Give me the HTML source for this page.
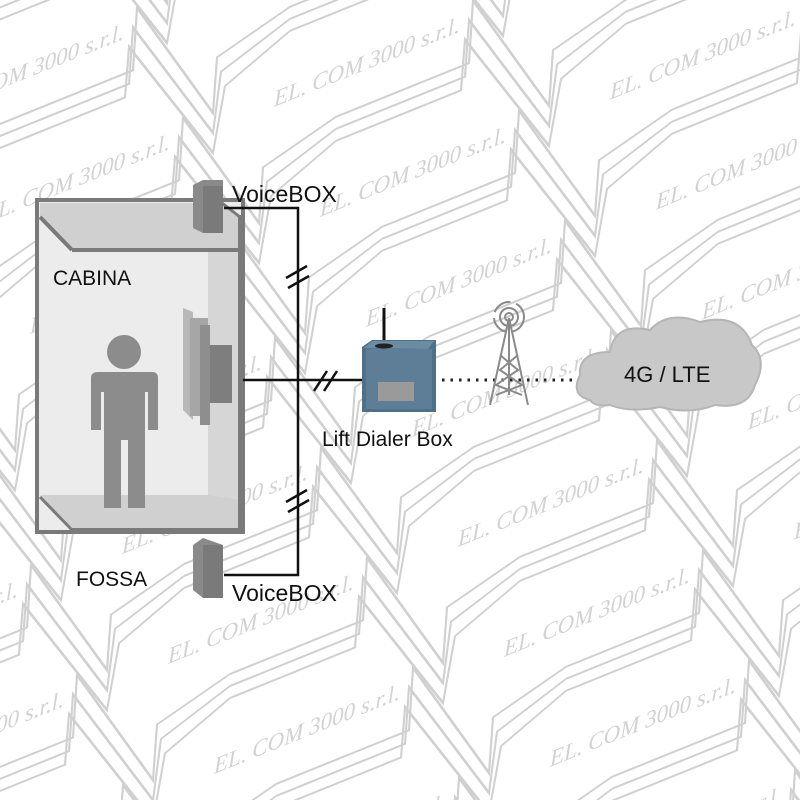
<!DOCTYPE html>
<html><head><style>
html,body{margin:0;padding:0;background:#fff;overflow:hidden;width:800px;height:800px;}
svg{display:block;}
.l{font-family:"Liberation Sans",sans-serif;fill:#111;}
.w{font-family:"Liberation Serif",serif;font-style:italic;font-size:23px;fill:#d2d2d2;}
</style></head><body>
<svg width="800" height="800" viewBox="0 0 800 800" xmlns="http://www.w3.org/2000/svg" style="overflow:hidden">
<defs>
<g id="u">
<g fill="none" stroke="#d0d0d0" stroke-width="2.2">
<polyline points="0,63 133,63 137,2 213,138 217,84 290,63"/>
<polyline points="0,75 129,75 133,20 213,158 221,100 290,75"/>
<polyline points="0,87 125,87 129,38 213,178 225,116 290,87"/>
</g>
<text class="w" x="228" y="28">EL. COM 3000 s.r.l.</text>
</g>
<g id="row">
<g transform="skewY(-22)">
<use href="#u" x="-1160"/><use href="#u" x="-870"/><use href="#u" x="-580"/><use href="#u" x="-290"/><use href="#u" x="0"/><use href="#u" x="290"/><use href="#u" x="580"/><use href="#u" x="870"/>
</g>
</g>
<clipPath id="c"><rect width="800" height="800"/></clipPath>
</defs>
<rect width="800" height="800" fill="#fff"/>
<g clip-path="url(#c)">
<use href="#row" transform="translate(-92,-159)"/>
<use href="#row" transform="translate(-46,-49)"/>
<use href="#row" transform="translate(0,61)"/>
<use href="#row" transform="translate(46,171)"/>
<use href="#row" transform="translate(92,281)"/>
<use href="#row" transform="translate(138,391)"/>
<use href="#row" transform="translate(184,501)"/>
<use href="#row" transform="translate(230,611)"/>
<use href="#row" transform="translate(276,721)"/>
<use href="#row" transform="translate(322,831)"/>
<use href="#row" transform="translate(368,941)"/>
<use href="#row" transform="translate(414,1051)"/>
<use href="#row" transform="translate(460,1161)"/>
</g>

<!-- cabin -->
<rect x="37" y="200" width="206" height="332" fill="#ececec" stroke="#7a7a7a" stroke-width="4"/>
<polygon points="40,203 222,203 240,217 240,250 72,250 40,217" fill="#d0d0d0"/>
<line x1="40" y1="217" x2="72" y2="250" stroke="#7a7a7a" stroke-width="4"/>
<line x1="72" y1="250" x2="240" y2="250" stroke="#7a7a7a" stroke-width="4"/>
<line x1="222" y1="203" x2="240" y2="217" stroke="#7a7a7a" stroke-width="3"/>
<rect x="208" y="252" width="32" height="250" fill="#d6d6d6"/>
<polygon points="40,495 208,495 240,500 240,530 72,530 40,495" fill="#d0d0d0"/>
<line x1="40" y1="497" x2="72" y2="530" stroke="#7a7a7a" stroke-width="3"/>
<line x1="72" y1="530" x2="240" y2="530" stroke="#7a7a7a" stroke-width="4"/>
<line x1="240" y1="215" x2="240" y2="530" stroke="#7a7a7a" stroke-width="4"/>
<!-- person -->
<circle cx="124" cy="352" r="17" fill="#8c8c8c"/>
<path d="M98,372 H152 Q158,372 158,378 V430 H148 V392 H145 V508 H128 V440 H121 V508 H104 V392 H101 V430 H91 V378 Q91,372 98,372 Z" fill="#8c8c8c"/>
<!-- door panel -->
<polygon points="183,308 193,312 193,420 183,410" fill="#b8b8b8"/>
<rect x="190" y="318" width="18" height="98" fill="#a6a6a6"/>
<rect x="200" y="325" width="10" height="100" fill="#8e8e8e"/>
<rect x="210" y="345" width="22" height="58" fill="#7e7e7e"/>
<!-- voice boxes -->
<polygon points="193,185 203,180 223,180 223,233 203,233 193,228" fill="#8a8a8a"/>
<rect x="203" y="186" width="20" height="47" fill="#7a7a7a"/>
<polygon points="193,545 203,538 223,545 223,598 203,598 193,590" fill="#8a8a8a"/>
<rect x="203" y="545" width="20" height="53" fill="#7a7a7a"/>
<!-- wiring -->
<g stroke="#111" stroke-width="2.5" fill="none">
<polyline points="224,208 298,208 298,575 224,575"/>
<line x1="243" y1="380" x2="365" y2="380"/>
<line x1="286" y1="278" x2="307" y2="266"/><line x1="288" y1="288" x2="309" y2="276"/>
<line x1="286" y1="502" x2="307" y2="490"/><line x1="288" y1="512" x2="309" y2="500"/>
<line x1="314" y1="391" x2="327" y2="371"/><line x1="324" y1="391" x2="337" y2="371"/>
</g>
<!-- dialer -->
<line x1="384" y1="308" x2="384" y2="346" stroke="#111" stroke-width="3"/>
<polygon points="362,347 372,340 436,340 436,412 362,412" fill="#4f7089"/>
<polygon points="364,348 372,341 434,341 428,349" fill="#6b8ca3"/>
<rect x="366" y="349" width="66" height="60" fill="#5d7e96"/>
<ellipse cx="384" cy="346" rx="9" ry="2.5" fill="#222"/>
<rect x="378" y="382" width="36" height="19" fill="#9a9a9a"/>
<line x1="442" y1="380" x2="575" y2="380" stroke="#222" stroke-width="3" stroke-dasharray="2.5,6"/>
<!-- tower -->
<g stroke="#8a8a8a" stroke-width="2" fill="none">
<circle cx="509" cy="317" r="4"/><circle cx="509" cy="317" r="9"/><circle cx="509" cy="317" r="15" stroke-dasharray="20,6"/>
<polyline points="490,405 509,318 528,405"/>
<line x1="509" y1="318" x2="509" y2="395"/>
<polyline points="500,355 518,370 496,385 522,395"/>
<polyline points="518,355 500,370 522,385 496,395"/>
</g>
<!-- cloud -->
<path d="M590,400 Q570,395 580,375 Q578,352 610,352 Q615,322 650,330 Q668,310 700,322 Q740,312 752,345 Q768,360 755,385 Q748,410 715,405 Q690,415 660,407 Q630,413 610,405 Q595,407 590,400 Z" fill="#c8c8c8" stroke="#b5b5b5" stroke-width="2"/>
<!-- labels -->
<text class="l" x="232" y="202" font-size="23">VoiceBOX</text>
<text class="l" x="232" y="601" font-size="23">VoiceBOX</text>
<text class="l" x="53" y="285" font-size="21">CABINA</text>
<text class="l" x="76" y="586" font-size="21">FOSSA</text>
<text class="l" x="322" y="446" font-size="21">Lift Dialer Box</text>
<text class="l" x="624" y="382" font-size="22">4G / LTE</text>
</svg>
</body></html>
